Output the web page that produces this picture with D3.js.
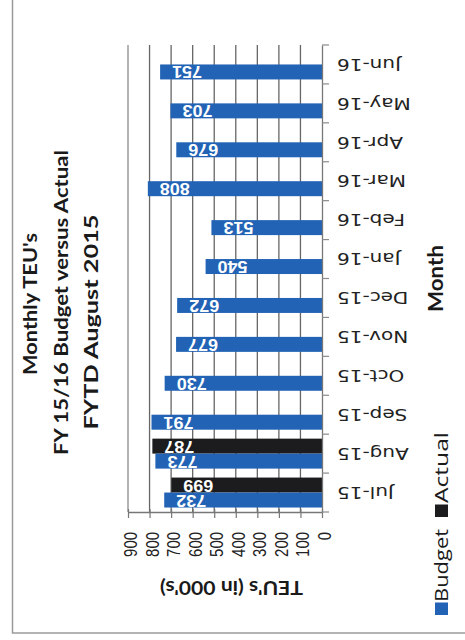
<!DOCTYPE html>
<html><head><meta charset="utf-8">
<script src="https://cdn.jsdelivr.net/npm/d3@7"></script>
<style>body{margin:0;background:#fff}svg{display:block}</style>
</head><body>
<script>
const months = ["Jul-15","Aug-15","Sep-15","Oct-15","Nov-15","Dec-15","Jan-16","Feb-16","Mar-16","Apr-16","May-16","Jun-16"];
const budget = [732,773,791,730,677,672,540,513,808,676,703,751];
const actual = [699,787,null,null,null,null,null,null,null,null,null,null];
const seriesNames = ["Actual","Budget"];
const seriesColors = ["#1c1c1e","#2263b5"];
const valueTicks = [0,100,200,300,400,500,600,700,800,900];
const titleLines = ["Monthly TEU's","FY 15/16 Budget versus Actual","FYTD August 2015"];
const valueAxisTitle = "TEU's (in 000's)";
const categoryAxisTitle = "Month";

const W = 465, H = 640;
const svg = d3.select("body").append("svg").attr("width", W).attr("height", H);

// outer frame
svg.append("rect").attr("x", 12.5).attr("y", -5).attr("width", 470).attr("height", 638)
  .attr("fill", "#fff").attr("stroke", "#9a9a9a").attr("stroke-width", 1.5);

const x = d3.scaleLinear().domain([0, 900]).range([322, 128]);
const y = d3.scaleBand().domain(months.slice().reverse()).range([45, 512])
  .paddingInner(0.23).paddingOuter(0.115);
const ySub = d3.scaleBand().domain(seriesNames).range([0, y.bandwidth()]);

// gridlines
svg.append("g").selectAll("line").data(valueTicks.filter(v => v > 0)).join("line")
  .attr("x1", d => x(d)).attr("x2", d => x(d)).attr("y1", 45).attr("y2", 512)
  .attr("stroke", d => d === 900 ? "#8c8c8c" : "#666").attr("stroke-width", 1.3);

// bars
const rows = months.map((m, i) => ({m, Budget: budget[i], Actual: actual[i]}));
const barData = [];
rows.forEach(r => seriesNames.forEach((s, si) => { if (r[s] != null) barData.push({m: r.m, s, si, v: r[s]}); }));
svg.append("g").selectAll("rect").data(barData).join("rect")
  .attr("x", d => x(d.v)).attr("width", d => x(0) - x(d.v))
  .attr("y", d => y(d.m) + ySub(d.s)).attr("height", ySub.bandwidth())
  .attr("fill", d => seriesColors[d.si]);

// value labels (rotated 180)
svg.append("g").selectAll("text").data(barData).join("text")
  .attr("transform", d => `translate(${x(d.v) + 27},${y(d.m) + ySub(d.s) + ySub.bandwidth()/2}) rotate(180)`)
  .attr("text-anchor", "middle").attr("dominant-baseline", "central")
  .attr("font-family", "Liberation Sans, Arial, sans-serif").attr("font-weight", "bold")
  .attr("font-size", 17).attr("fill", "#fff")
  .attr("textLength", 30).attr("lengthAdjust", "spacingAndGlyphs")
  .text(d => d.v);

// value axis (bottom)
const xAxis = svg.append("g").attr("transform", "translate(0,512)")
  .call(d3.axisBottom(x).tickValues(valueTicks).tickSize(6).tickSizeOuter(0).tickFormat(""));
xAxis.select(".domain").attr("stroke", "#777").attr("stroke-width", 1.3);
xAxis.selectAll(".tick line").attr("stroke", "#777").attr("stroke-width", 1.2).attr("y1", -3);

// category axis (vertical at 0)
const catAxis = svg.append("g").attr("transform", `translate(${x(0)},0)`)
  .call(d3.axisRight(y).tickSize(0).tickSizeOuter(0).tickFormat(""));
catAxis.select(".domain").attr("stroke", "#777").attr("stroke-width", 1.3);
const bounds = months.map(m => y(m) - y.step() * y.paddingInner() / 2);
bounds.push(y(months[0]) + y.bandwidth() + y.step() * y.paddingInner() / 2);
svg.append("g").selectAll("line").data(bounds).join("line")
  .attr("x1", x(0)).attr("x2", x(0) + 7).attr("y1", d => d).attr("y2", d => d)
  .attr("stroke", "#8a8a8a").attr("stroke-width", 1.2);

// value tick labels (rotated -90)
svg.append("g").selectAll("text").data(valueTicks).join("text")
  .attr("transform", d => `translate(${x(d) + 9},532) rotate(-90)`)
  .attr("text-anchor", "end")
  .attr("font-family", "Liberation Sans, Arial, sans-serif").attr("font-size", 18.5).attr("fill", "#222")
  .attr("textLength", d => String(d).length * 8.3).attr("lengthAdjust", "spacingAndGlyphs")
  .text(d => d);

// month labels (rotated 180)
svg.append("g").selectAll("text").data(months).join("text")
  .attr("transform", d => `translate(337,${y(d) + y.bandwidth()/2}) scale(1.25,1) rotate(180)`)
  .attr("text-anchor", "end").attr("dominant-baseline", "central")
  .attr("font-family", "DejaVu Sans, sans-serif").attr("font-size", 16).attr("fill", "#222")
  .text(d => d);

// title (rotated -90)
const titleSpec = [{bx: 37, cy: 304, len: 142}, {bx: 68, cy: 302.5, len: 305}, {bx: 98, cy: 322, len: 215}];
svg.append("g").selectAll("text").data(titleLines).join("text")
  .attr("transform", (d, i) => `translate(${titleSpec[i].bx},${titleSpec[i].cy}) rotate(-90)`)
  .attr("text-anchor", "middle")
  .attr("font-family", "Lato, Open Sans, sans-serif").attr("font-weight", "bold")
  .attr("font-size", 18.5).attr("fill", "#1a1a1a")
  .attr("textLength", (d, i) => titleSpec[i].len).attr("lengthAdjust", "spacingAndGlyphs")
  .text(d => d);

// value axis title (rotated 180)
svg.append("text")
  .attr("transform", "translate(231.5,581) rotate(180)")
  .attr("text-anchor", "middle")
  .attr("font-family", "Lato, Open Sans, sans-serif").attr("font-weight", "bold")
  .attr("font-size", 19).attr("fill", "#1a1a1a")
  .attr("textLength", 143).attr("lengthAdjust", "spacingAndGlyphs")
  .text(valueAxisTitle);

// category axis title (rotated -90)
svg.append("text")
  .attr("transform", `translate(443,${(45 + 512) / 2}) rotate(-90)`)
  .attr("text-anchor", "middle")
  .attr("font-family", "Lato, Open Sans, sans-serif").attr("font-weight", "bold")
  .attr("font-size", 20).attr("fill", "#1a1a1a")
  .attr("textLength", 67).attr("lengthAdjust", "spacingAndGlyphs")
  .text(categoryAxisTitle);

// legend (rotated -90, reading bottom to top)
const legendSpec = [{name: "Budget", color: seriesColors[1], sq: 615, t0: 602, len: 73},
                    {name: "Actual", color: seriesColors[0], sq: 517, t0: 503, len: 71}];
const lg = svg.append("g");
lg.selectAll("rect").data(legendSpec).join("rect")
  .attr("x", 435).attr("y", d => d.sq - 12.5).attr("width", 13).attr("height", 12.5)
  .attr("fill", d => d.color);
lg.selectAll("text").data(legendSpec).join("text")
  .attr("transform", d => `translate(448,${d.t0}) rotate(-90)`)
  .attr("text-anchor", "start")
  .attr("font-family", "Open Sans, sans-serif").attr("font-size", 19).attr("fill", "#1a1a1a")
  .attr("textLength", d => d.len).attr("lengthAdjust", "spacingAndGlyphs")
  .text(d => d.name);
</script>
</body></html>
